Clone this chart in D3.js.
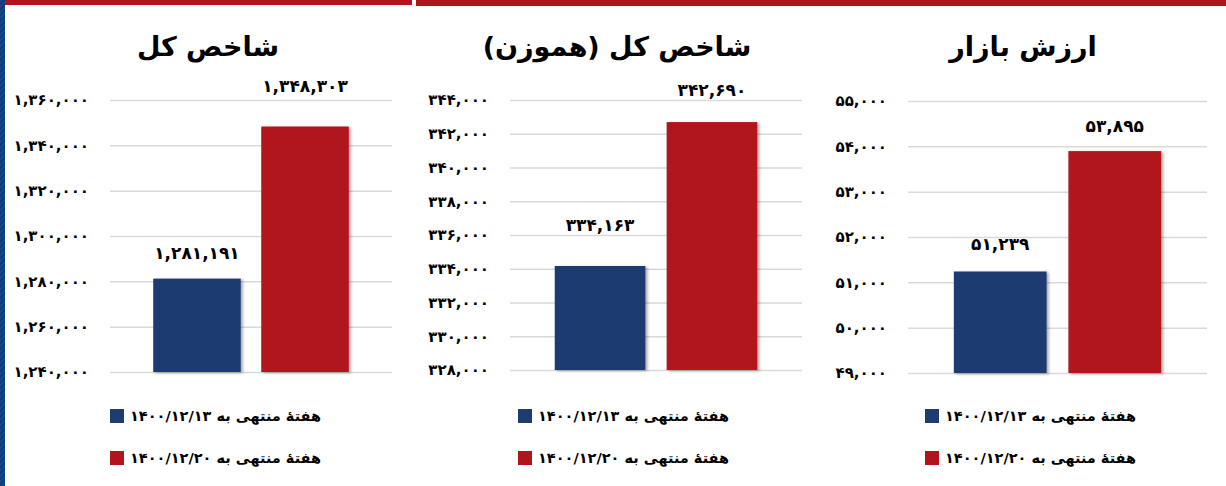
<!DOCTYPE html>
<html lang="fa">
<head>
    <meta charset="UTF-8">
    <title>شاخص کل، شاخص هموزن و ارزش بازار</title>
    <script src="https://d3js.org/d3.v7.min.js"></script>
    <style>
        body {
            margin: 0;
            background-color: #ffffff;
            font-family: "DejaVu Sans", sans-serif;
        }
        .grid line {
            stroke: #d9d9d9;
            stroke-width: 1.5px;
        }
        .grid text {
            font-size: 15px;
            font-weight: bold;
            fill: #000000;
        }
    </style>
</head>
<body>
    <svg id="chart" width="1226" height="486"></svg>
    <script>
        // data
        const panelTitles = ['شاخص کل', 'شاخص کل (هموزن)', 'ارزش بازار'];
        const seriesNames = ['هفتهٔ منتهی به ۱۴۰۰/۱۲/۱۳', 'هفتهٔ منتهی به ۱۴۰۰/۱۲/۲۰'];
        const week13Values = [1281191, 334163, 51239];
        const week20Values = [1348303, 342690, 53895];
        const axisMin = [1240000, 328000, 49000];
        const axisMax = [1360000, 344000, 55000];
        const axisStep = [20000, 2000, 1000];

        const colors = ['#1f3b6f', '#b1141b'];

        // layout of the three panels
        const panels = [
            { left: 110, right: 392, top: 100, bottom: 372, titleX: 208, legendX: 110, lift: [26, 40] },
            { left: 510, right: 802, top: 100, bottom: 370, titleX: 617, legendX: 518, lift: [41, 32] },
            { left: 908, right: 1207, top: 101, bottom: 373, titleX: 1023, legendX: 925, lift: [27, 25] }
        ];

        const persianDigits = '۰۱۲۳۴۵۶۷۸۹';
        const fmt = v => d3.format(',')(v).replace(/\d/g, d => persianDigits[+d]);

        const svg = d3.select('#chart');

        const defs = svg.append('defs');
        defs.append('filter').attr('id', 'shadow')
            .attr('x', '-10%').attr('y', '-10%').attr('width', '130%').attr('height', '120%')
            .append('feDropShadow')
            .attr('dx', 2).attr('dy', 1).attr('stdDeviation', 1.5)
            .attr('flood-color', '#000').attr('flood-opacity', 0.35);

        const stripes = defs.append('pattern').attr('id', 'stripes')
            .attr('width', 4).attr('height', 4)
            .attr('patternUnits', 'userSpaceOnUse')
            .attr('patternTransform', 'rotate(45)');
        stripes.append('rect').attr('width', 4).attr('height', 4).attr('fill', '#0c3b7c');
        stripes.append('rect').attr('width', 1.5).attr('height', 4).attr('fill', '#1a4a8c');

        // frame decorations
        svg.append('rect').attr('x', 0).attr('y', 0).attr('width', 5).attr('height', 486).attr('fill', 'url(#stripes)');
        svg.append('rect').attr('x', 5).attr('y', 0).attr('width', 407).attr('height', 5).attr('fill', '#b1141b');
        svg.append('rect').attr('x', 416).attr('y', 0).attr('width', 810).attr('height', 6).attr('fill', '#b1141b');

        panels.forEach((p, i) => {
            const values = [week13Values[i], week20Values[i]];

            const x = d3.scaleBand()
                .domain([0, 1])
                .range([p.left, p.right])
                .paddingInner(0.19)
                .paddingOuter(0.4);

            const y = d3.scaleLinear()
                .domain([axisMin[i], axisMax[i]])
                .range([p.bottom, p.top]);

            const ticks = d3.range(axisMin[i], axisMax[i] + axisStep[i] / 2, axisStep[i]);

            svg.append('g')
                .attr('class', 'grid')
                .attr('transform', `translate(${p.left},0)`)
                .call(d3.axisLeft(y).tickValues(ticks).tickFormat(fmt)
                    .tickSize(-(p.right - p.left)).tickPadding(21))
                .call(g => g.select('.domain').remove())
                .call(g => g.selectAll('text').attr('font-family', '"DejaVu Sans", sans-serif'));

            svg.append('text')
                .attr('x', p.titleX)
                .attr('y', 56)
                .attr('text-anchor', 'middle')
                .style('font-size', '27px')
                .style('font-weight', 'bold')
                .text(panelTitles[i]);

            svg.append('g').selectAll('rect')
                .data(values)
                .join('rect')
                .attr('x', (d, j) => x(j))
                .attr('width', x.bandwidth())
                .attr('y', d => y(d))
                .attr('height', d => p.bottom - y(d))
                .attr('fill', (d, j) => colors[j])
                .attr('filter', 'url(#shadow)');

            svg.append('g').selectAll('text')
                .data(values)
                .join('text')
                .attr('x', (d, j) => x(j) + x.bandwidth() / 2)
                .attr('y', (d, j) => y(d) - p.lift[j])
                .attr('dy', '0.35em')
                .attr('text-anchor', 'middle')
                .style('font-size', '17px')
                .style('font-weight', 'bold')
                .text(d => fmt(d));

            const legend = svg.append('g');
            seriesNames.forEach((name, j) => {
                const cy = 416 + j * 42;
                legend.append('rect')
                    .attr('x', p.legendX)
                    .attr('y', cy - 7)
                    .attr('width', 14)
                    .attr('height', 14)
                    .attr('fill', colors[j]);
                legend.append('text')
                    .attr('x', p.legendX + 20)
                    .attr('y', cy)
                    .attr('dy', '0.35em')
                    .style('font-size', '14.5px')
                    .style('font-weight', 'bold')
                    .text(name);
            });
        });
    </script>
</body>
</html>
